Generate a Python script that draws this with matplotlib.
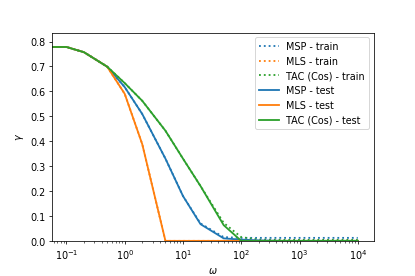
import numpy as np
import matplotlib.pyplot as plt

# values
omega = [0.05, 0.1, 0.2, 0.5, 1, 2, 5, 10, 20, 50, 100, 200, 500, 1000, 2000, 5000, 10000]

msp_train = [0.778, 0.778, 0.757, 0.699, 0.617, 0.509, 0.33, 0.18, 0.07, 0.015, 0.012, 0.012, 0.012, 0.012, 0.012, 0.012, 0.012]
mls_train = [0.778, 0.778, 0.757, 0.699, 0.59, 0.388, 0.0, 0.0, 0.0, 0.0, 0.0, 0.0, 0.0, 0.0, 0.0, 0.0, 0.0]
tac_train = [0.778, 0.778, 0.757, 0.699, 0.633, 0.562, 0.442, 0.33, 0.22, 0.072, 0.015, 0.005, 0.004, 0.004, 0.004, 0.004, 0.004]

msp_test = [0.778, 0.778, 0.757, 0.699, 0.617, 0.509, 0.33, 0.18, 0.067, 0.01, 0.005, 0.002, 0.0, 0.0, 0.0, 0.0, 0.0]
mls_test = [0.778, 0.778, 0.757, 0.699, 0.59, 0.388, 0.0, 0.0, 0.0, 0.0, 0.0, 0.0, 0.0, 0.0, 0.0, 0.0, 0.0]
tac_test = [0.778, 0.778, 0.757, 0.699, 0.633, 0.562, 0.442, 0.33, 0.22, 0.063, 0.0, 0.0, 0.0, 0.0, 0.0, 0.0, 0.0]

fig, ax = plt.subplots(figsize=(6, 4), dpi=415 / 6)
fig.subplots_adjust(left=0.125, right=0.9, bottom=0.127, top=0.88)

lw = 1.9
ax.plot(omega, msp_train, ':', color='C0', lw=lw, label='MSP - train')
ax.plot(omega, mls_train, ':', color='C1', lw=lw, label='MLS - train')
ax.plot(omega, tac_train, ':', color='C2', lw=lw, label='TAC (Cos) - train')
ax.plot(omega, msp_test, '-', color='C0', lw=lw, label='MSP - test')
ax.plot(omega, mls_test, '-', color='C1', lw=lw, label='MLS - test')
ax.plot(omega, tac_test, '-', color='C2', lw=lw, label='TAC (Cos) - test')

ax.set_xscale('log')
ax.set_xlim(10 ** -1.25, 10 ** 4.27)
ax.set_ylim(0, 0.836)
ax.set_xlabel(r'$\omega$')
ax.set_ylabel(r'$\gamma$')
ax.legend(loc='upper right')

fig.savefig('out.png')
